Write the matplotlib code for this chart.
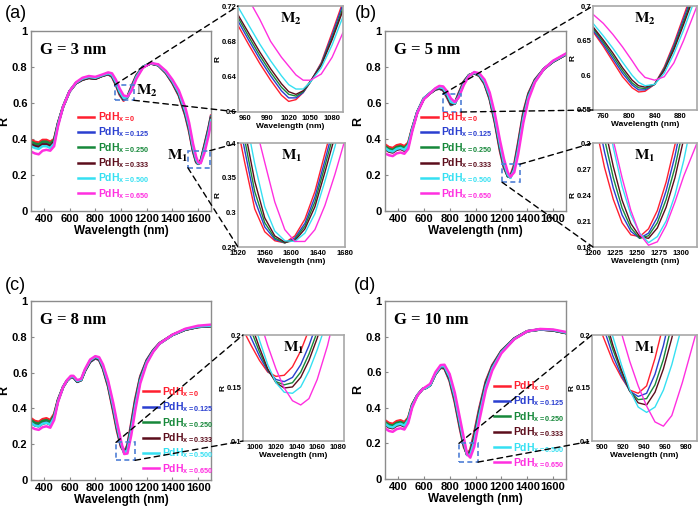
import matplotlib
matplotlib.use('Agg')
import matplotlib.pyplot as plt
from matplotlib.patches import Rectangle, ConnectionPatch
from matplotlib.ticker import FormatStrFormatter

# ---- series (PdH_x composition) ----
doping = ['0', '0.125', '0.250', '0.333', '0.500', '0.650']
colors = ['#ff1f2f', '#2a3fd0', '#16883a', '#5c0d1c', '#35e0f2', '#ff2fe0']

# ---- panel (a), G = 3 nm ----
wl_a = [300, 330, 360, 390, 420, 450, 480, 510, 550, 600, 650, 700, 750, 800, 850, 900, 930, 960, 990,
        1020, 1050, 1080, 1120, 1170, 1230, 1290, 1350, 1400, 1450, 1500, 1530, 1560, 1585, 1600, 1620,
        1650, 1680, 1700]
r_a = [
    [.395, .385, .38, .395, .395, .385, .40, .49, .58, .665, .71, .73, .74, .735, .75, .76, .745, .70, .645,
     .613, .635, .69, .755, .80, .82, .81, .765, .71, .64, .53, .44, .33, .27, .262, .28, .37, .46, .53],
    [.375, .365, .365, .38, .38, .37, .39, .485, .58, .665, .71, .73, .74, .735, .75, .76, .748, .705, .65,
     .617, .633, .685, .752, .80, .82, .81, .767, .713, .645, .535, .45, .335, .272, .262, .277, .365, .455, .525],
    [.385, .375, .37, .385, .385, .375, .395, .487, .58, .665, .71, .73, .74, .735, .75, .762, .75, .708, .653,
     .62, .632, .682, .75, .80, .82, .81, .768, .715, .647, .54, .455, .34, .275, .262, .275, .36, .45, .52],
    [.37, .36, .355, .37, .37, .36, .385, .483, .58, .665, .71, .73, .74, .735, .75, .762, .752, .71, .656,
     .622, .631, .68, .748, .80, .82, .81, .769, .717, .65, .545, .46, .345, .278, .262, .274, .355, .445, .515],
    [.36, .35, .345, .36, .36, .35, .375, .48, .58, .665, .712, .735, .745, .74, .753, .765, .756, .716, .663,
     .628, .632, .675, .745, .80, .822, .812, .772, .722, .657, .555, .47, .355, .285, .264, .27, .345, .435, .505],
    [.33, .32, .315, .335, .34, .335, .36, .47, .58, .665, .715, .74, .75, .745, .757, .77, .765, .73, .68,
     .642, .636, .665, .735, .795, .822, .815, .778, .73, .67, .575, .49, .375, .30, .272, .265, .325, .415, .49],
]
# inset M2 of (a)
wl_a2 = [950, 965, 980, 995, 1010, 1020, 1030, 1040, 1050, 1065, 1080, 1095]
r_a2 = [
    [.698, .676, .655, .636, .619, .612, .614, .622, .634, .656, .690, .725],
    [.703, .681, .660, .641, .624, .616, .616, .622, .634, .655, .687, .722],
    [.707, .685, .664, .645, .628, .620, .618, .623, .634, .654, .684, .718],
    [.710, .689, .668, .649, .632, .623, .620, .624, .635, .653, .682, .715],
    [.719, .698, .677, .658, .641, .631, .626, .626, .634, .650, .676, .708],
    [.745, .727, .705, .680, .662, .652, .642, .636, .636, .643, .662, .690],
]
# inset M1 of (a)
wl_a1 = [1520, 1530, 1545, 1560, 1575, 1590, 1605, 1620, 1635, 1650, 1665, 1680]
r_a1 = [
    [.42, .372, .305, .272, .259, .256, .266, .29, .33, .385, .44, .50],
    [.44, .39, .318, .279, .261, .256, .263, .284, .322, .375, .43, .49],
    [.455, .405, .33, .285, .263, .256, .261, .28, .315, .367, .42, .48],
    [.47, .42, .345, .292, .266, .257, .259, .276, .308, .358, .41, .47],
    [.49, .445, .37, .308, .273, .259, .258, .27, .298, .345, .395, .455],
    [.54, .50, .43, .372, .315, .275, .258, .258, .275, .31, .355, .405],
]

# ---- panel (b), G = 5 nm ----
wl_b = [300, 330, 360, 390, 420, 450, 480, 510, 550, 600, 650, 690, 720, 750, 780, 810, 840, 870, 910, 950,
        990, 1030, 1070, 1110, 1150, 1190, 1220, 1250, 1270, 1300, 1330, 1370, 1410, 1460, 1530, 1600, 1700]
r_b = [
    [.37, .355, .35, .365, .37, .36, .38, .46, .55, .625, .655, .675, .68, .67, .63, .588, .60, .655, .72, .755,
     .765, .75, .705, .62, .49, .33, .24, .195, .195, .26, .38, .55, .655, .73, .79, .83, .87],
    [.355, .34, .335, .35, .355, .345, .37, .455, .55, .625, .655, .675, .68, .672, .635, .59, .598, .65, .718, .755,
     .765, .752, .708, .625, .497, .34, .245, .192, .19, .25, .37, .54, .65, .728, .79, .83, .87],
    [.36, .345, .34, .355, .36, .35, .372, .456, .55, .625, .655, .676, .682, .674, .638, .593, .597, .647, .716, .755,
     .765, .753, .71, .628, .502, .345, .25, .193, .188, .245, .362, .535, .647, .726, .79, .83, .87],
    [.345, .33, .325, .34, .345, .335, .362, .452, .55, .625, .655, .677, .684, .676, .642, .597, .597, .643, .713, .754,
     .766, .755, .713, .632, .508, .352, .256, .196, .187, .24, .355, .528, .643, .724, .79, .83, .87],
    [.35, .335, .33, .345, .35, .34, .365, .452, .55, .625, .657, .68, .688, .682, .65, .605, .598, .637, .708, .753,
     .768, .758, .718, .64, .518, .365, .265, .20, .184, .232, .342, .515, .635, .72, .79, .832, .872],
    [.32, .31, .305, .32, .325, .318, .345, .44, .545, .62, .655, .682, .695, .692, .665, .625, .605, .63, .70, .75,
     .772, .765, .73, .658, .54, .39, .29, .215, .19, .215, .315, .49, .62, .715, .79, .835, .875],
]
wl_b2 = [744, 760, 775, 790, 805, 815, 825, 840, 855, 870, 885, 906]
r_b2 = [
    [.663, .642, .620, .598, .582, .576, .577, .587, .612, .646, .685, .74],
    [.665, .645, .624, .603, .586, .579, .579, .587, .610, .643, .681, .735],
    [.668, .648, .628, .607, .589, .582, .581, .587, .609, .640, .677, .73],
    [.670, .651, .632, .611, .593, .585, .583, .587, .607, .637, .673, .726],
    [.675, .657, .639, .619, .600, .590, .585, .587, .603, .631, .665, .718],
    [.688, .675, .659, .641, .621, .607, .597, .593, .598, .618, .650, .70],
]
wl_b1 = [1203, 1213, 1223, 1233, 1243, 1253, 1263, 1273, 1283, 1293, 1303, 1318]
r_b1 = [
    [.32, .272, .235, .208, .194, .192, .201, .222, .255, .298, .35, .44],
    [.34, .29, .248, .217, .198, .19, .196, .214, .245, .285, .335, .42],
    [.36, .305, .26, .225, .202, .19, .193, .208, .235, .272, .32, .40],
    [.38, .32, .273, .234, .207, .192, .19, .202, .226, .26, .305, .385],
    [.41, .35, .295, .25, .217, .196, .185, .192, .21, .24, .28, .355],
    [.40, .35, .303, .26, .222, .195, .182, .186, .205, .232, .262, .30],
]

# ---- panel (c), G = 8 nm ----
wl_c = [300, 330, 360, 390, 420, 450, 480, 510, 550, 580, 610, 630, 660, 690, 720, 760, 800, 830, 860, 900,
        940, 970, 1000, 1025, 1050, 1080, 1110, 1150, 1200, 1250, 1300, 1400, 1500, 1600, 1700]
r_c = [
    [.345, .33, .325, .34, .345, .335, .37, .45, .52, .555, .575, .575, .55, .56, .61, .66, .68, .67, .62, .52,
     .38, .27, .185, .16, .195, .32, .45, .58, .67, .725, .765, .81, .84, .855, .86],
    [.33, .315, .31, .325, .33, .32, .36, .445, .52, .555, .575, .573, .548, .558, .61, .66, .68, .672, .624, .526,
     .39, .28, .19, .157, .188, .31, .44, .575, .668, .724, .764, .81, .84, .855, .86],
    [.335, .32, .315, .33, .335, .325, .362, .446, .52, .555, .576, .574, .549, .558, .611, .662, .682, .674, .627, .53,
     .395, .285, .195, .155, .182, .30, .432, .57, .665, .722, .763, .81, .84, .855, .86],
    [.32, .305, .30, .315, .32, .31, .352, .442, .52, .555, .576, .575, .55, .558, .612, .664, .684, .676, .63, .535,
     .40, .29, .198, .152, .178, .293, .425, .565, .663, .72, .762, .81, .84, .855, .86],
    [.32, .305, .30, .315, .32, .31, .35, .44, .52, .556, .578, .578, .553, .56, .615, .668, .688, .68, .635, .542,
     .41, .30, .205, .15, .168, .28, .412, .556, .658, .718, .762, .81, .842, .857, .862],
    [.295, .285, .28, .295, .30, .292, .335, .435, .52, .558, .582, .582, .558, .565, .62, .673, .692, .686, .645, .555,
     .43, .32, .22, .145, .148, .25, .385, .54, .65, .715, .762, .812, .845, .862, .868],
]
wl_c1 = [988, 996, 1004, 1012, 1020, 1028, 1036, 1044, 1052, 1060, 1070, 1086]
r_c1 = [
    [.205, .19, .176, .165, .161, .162, .17, .185, .205, .23, .26, .31],
    [.215, .197, .18, .166, .158, .156, .16, .172, .19, .212, .245, .30],
    [.225, .204, .184, .167, .156, .153, .155, .165, .182, .203, .235, .29],
    [.232, .21, .188, .168, .155, .15, .151, .16, .176, .197, .228, .28],
    [.245, .22, .195, .172, .155, .146, .145, .151, .166, .186, .215, .27],
    [.265, .24, .215, .19, .168, .15, .138, .134, .14, .158, .19, .255],
]

# ---- panel (d), G = 10 nm ----
wl_d = [300, 330, 360, 390, 420, 450, 480, 510, 550, 590, 620, 650, 690, 730, 760, 800, 840, 880, 910, 935,
        960, 990, 1030, 1080, 1130, 1200, 1300, 1400, 1500, 1600, 1700]
r_d = [
    [.33, .315, .31, .325, .33, .32, .345, .42, .47, .505, .515, .53, .59, .625, .62, .55, .43, .28, .18, .14,
     .165, .26, .40, .55, .64, .72, .79, .83, .84, .835, .82],
    [.315, .30, .295, .31, .315, .305, .335, .415, .47, .505, .513, .528, .59, .627, .623, .556, .44, .29, .188, .138,
     .155, .245, .39, .543, .636, .718, .789, .83, .84, .835, .82],
    [.32, .305, .30, .315, .32, .31, .34, .416, .47, .505, .513, .528, .59, .628, .625, .56, .445, .296, .193, .137,
     .15, .235, .382, .538, .633, .717, .789, .83, .84, .835, .82],
    [.305, .29, .285, .30, .305, .295, .33, .412, .47, .505, .512, .527, .59, .63, .628, .565, .452, .303, .198, .135,
     .145, .225, .373, .532, .63, .715, .788, .83, .84, .835, .82],
    [.31, .295, .29, .305, .31, .30, .332, .41, .47, .505, .513, .528, .592, .633, .633, .573, .462, .315, .208, .135,
     .137, .21, .36, .52, .623, .712, .787, .83, .841, .837, .822],
    [.285, .27, .265, .28, .285, .278, .315, .40, .468, .505, .52, .535, .60, .64, .642, .59, .485, .34, .23, .14,
     .12, .18, .33, .50, .61, .706, .785, .83, .843, .84, .826],
]
wl_d1 = [890, 900, 910, 918, 926, 934, 942, 950, 958, 966, 976, 990]
r_d1 = [
    [.235, .20, .175, .16, .148, .145, .152, .178, .21, .25, .30, .37],
    [.245, .21, .18, .162, .147, .142, .145, .163, .19, .225, .27, .34],
    [.255, .218, .186, .165, .147, .139, .14, .153, .177, .21, .253, .32],
    [.262, .225, .19, .167, .147, .136, .134, .146, .168, .197, .24, .31],
    [.275, .235, .198, .172, .148, .132, .127, .132, .148, .172, .21, .28],
    [.30, .265, .232, .202, .175, .152, .133, .118, .114, .124, .155, .205],
]

plt.rcParams['font.family'] = 'Liberation Sans'
plt.rcParams['font.weight'] = 'bold'
plt.rcParams['mathtext.fontset'] = 'custom'
plt.rcParams['mathtext.rm'] = 'Liberation Sans:bold'
plt.rcParams['mathtext.bf'] = 'Liberation Sans:bold'
plt.rcParams['mathtext.it'] = 'Liberation Sans:bold'

W, H = 699, 507
fig = plt.figure(figsize=(W / 100, H / 100), dpi=100)


def px_axes(x0, y0, x1, y1):
    return fig.add_axes([x0 / W, 1 - y1 / H, (x1 - x0) / W, (y1 - y0) / H])


def m_label(ax, x, y, sub, size, **kw):
    ax.text(x, y, r'$\mathbf{M}_{\mathbf{%s}}$' % sub, math_fontfamily='stix',
            fontsize=size, **kw)


def draw_main(rect, wl, series, gap, leg_xy):
    ax = px_axes(*rect)
    for r, c, d in zip(series, colors, doping):
        ax.plot(wl, r, color=c, lw=1.8, label=r'$\mathbf{PdH}_{\mathbf{x{=}%s}}$' % d)
    ax.set_xlim(300, 1700)
    ax.set_ylim(0, 1)
    ax.set_xticks([400, 600, 800, 1000, 1200, 1400, 1600])
    ax.set_yticks([0, 0.2, 0.4, 0.6, 0.8, 1])
    ax.yaxis.set_major_formatter(FormatStrFormatter('%g'))
    ax.tick_params(labelsize=8, direction='in', length=2, color='#888888', pad=2.5)
    for s in ax.spines.values():
        s.set_color('#8c8c8c')
        s.set_linewidth(1.0)
    ax.set_xlabel('Wavelength (nm)', fontsize=8.5, fontweight='bold', labelpad=0.5)
    ax.set_ylabel('R', fontsize=9, fontweight='bold', labelpad=1)
    ax.text(0.05, 0.895, gap, transform=ax.transAxes, family='Liberation Serif',
            fontsize=12, fontweight='bold', va='center')
    ax.legend(loc='upper left', bbox_to_anchor=leg_xy, frameon=False, fontsize=7.5,
              labelcolor='linecolor', handlelength=1.6, handletextpad=0.3,
              labelspacing=0.15, borderpad=0, borderaxespad=0)
    return ax


def draw_inset(rect, wl, series, xlim, ylim, xticks, yticks, sub):
    ax = px_axes(*rect)
    for r, c in zip(series, colors):
        ax.plot(wl, r, color=c, lw=1.0)
    ax.set_xlim(*xlim)
    ax.set_ylim(*ylim)
    ax.set_xticks(xticks)
    ax.set_yticks(yticks)
    ax.yaxis.set_major_formatter(FormatStrFormatter('%g'))
    ax.tick_params(labelsize=5.5, length=0, pad=1)
    ax.tick_params(axis='x', pad=2.5)
    for s in ax.spines.values():
        s.set_color('#a8a8a8')
        s.set_linewidth(1.2)
    ax.set_xlabel('Wavelength (nm)', fontsize=6, fontweight='bold', labelpad=0.5)
    ax.set_ylabel('R', fontsize=6, fontweight='bold', labelpad=0)
    m_label(ax, 0.5, 0.88, sub, 11, transform=ax.transAxes, ha='center', va='center')
    return ax


def zoom_box(ax, inset, x0, y0, x1, y1, upper, lower):
    ax.add_patch(Rectangle((x0, y0), x1 - x0, y1 - y0, fill=False, ec='#4f7fd6',
                           lw=1.2, ls=(0, (3, 2)), zorder=5))
    for xy in (upper, lower):
        corner = (0, 1) if xy is upper else (0, 0)
        cp = ConnectionPatch(xyA=xy, coordsA=ax.transData, xyB=corner, coordsB=inset.transAxes,
                             color='k', lw=1.0, ls=(0, (4, 3)))
        fig.add_artist(cp)


# (a)
ax_a = draw_main((31, 31, 211, 211), wl_a, r_a, 'G = 3 nm', (0.26, 0.56))
in_a2 = draw_inset((238, 6, 343, 112), wl_a2, r_a2, (950, 1095), (0.6, 0.72),
                   [960, 990, 1020, 1050, 1080], [0.6, 0.64, 0.68, 0.72], '2')
in_a1 = draw_inset((238, 143, 345, 247), wl_a1, r_a1, (1520, 1680), (0.25, 0.4),
                   [1520, 1560, 1600, 1640, 1680], [0.25, 0.3, 0.35, 0.4], '1')
zoom_box(ax_a, in_a2, 950, 0.615, 1100, 0.70, (950, 0.70), (1100, 0.615))
zoom_box(ax_a, in_a1, 1520, 0.24, 1690, 0.335, (1690, 0.335), (1520, 0.24))
m_label(ax_a, 1120, 0.645, '2', 11)
m_label(ax_a, 1360, 0.285, '1', 11)

# (b)
ax_b = draw_main((385, 31, 566, 211), wl_b, r_b, 'G = 5 nm', (0.2, 0.56))
in_b2 = draw_inset((593, 6, 697, 110), wl_b2, r_b2, (744, 906), (0.55, 0.7),
                   [760, 800, 840, 880], [0.55, 0.6, 0.65, 0.7], '2')
in_b1 = draw_inset((593, 143, 697, 247), wl_b1, r_b1, (1202, 1318), (0.18, 0.3),
                   [1200, 1225, 1250, 1275, 1300], [0.18, 0.21, 0.24, 0.27, 0.3], '1')
zoom_box(ax_b, in_b2, 749, 0.55, 888, 0.65, (749, 0.65), (888, 0.55))
zoom_box(ax_b, in_b1, 1205, 0.16, 1344, 0.26, (1344, 0.26), (1205, 0.16))

# (c)
ax_c = draw_main((31, 301, 211, 480), wl_c, r_c, 'G = 8 nm', (0.62, 0.53))
in_c = draw_inset((243, 335, 344, 441), wl_c1, r_c1, (988, 1086), (0.1, 0.2),
                  [1000, 1020, 1040, 1060, 1080], [0.1, 0.15, 0.2], '1')
zoom_box(ax_c, in_c, 961, 0.11, 1109, 0.21, (961, 0.21), (1109, 0.11))

# (d)
ax_d = draw_main((385, 301, 566, 479), wl_d, r_d, 'G = 10 nm', (0.6, 0.56))
in_d = draw_inset((592, 335, 697, 441), wl_d1, r_d1, (890, 990), (0.1, 0.2),
                  [900, 920, 940, 960, 980], [0.1, 0.15, 0.2], '1')
zoom_box(ax_d, in_d, 872, 0.095, 1019, 0.20, (872, 0.20), (1019, 0.095))

for lab, x, y in [('(a)', 16, 13), ('(b)', 366, 13), ('(c)', 15, 285), ('(d)', 365, 285)]:
    fig.text(x / W, 1 - y / H, lab, fontsize=13, fontweight='normal', ha='center', va='center')

fig.savefig('out.png', dpi=100)
